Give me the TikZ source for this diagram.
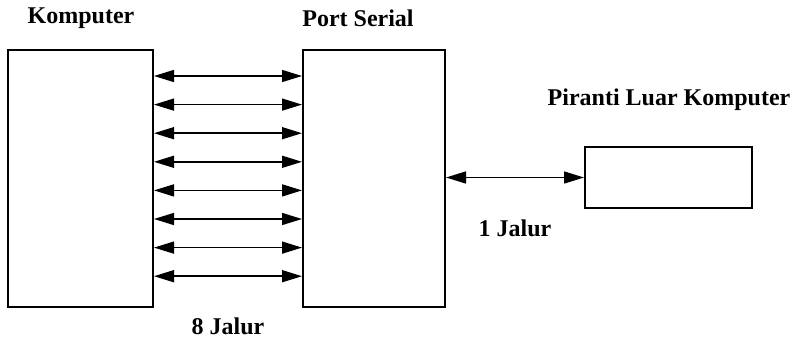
\documentclass[tikz,border=0pt]{standalone}
\usepackage{fontspec}
\setmainfont{Liberation Serif}
\usetikzlibrary{arrows.meta}
\begin{document}
\begin{tikzpicture}[
  x=0.75pt, y=-0.75pt,
  font=\fontsize{18}{21}\selectfont\bfseries,
  blok/.style={draw, line width=1.5pt, fill=white, inner sep=0pt},
  biarr/.style={{Triangle[length=15pt,width=9pt]}-{Triangle[length=15pt,width=9pt]}, line width=1.1pt},
  lbl/.style={inner sep=1pt}
]
\useasboundingbox (0,0) rectangle (795,339);

%% Blocks
\node[blok, minimum width=108.75pt, minimum height=192.75pt] (komp)   at (80.5,178.5) {};
\node[blok, minimum width=106.5pt,  minimum height=192.75pt] (port)   at (374,178.5)  {};
\node[blok, minimum width=125.25pt, minimum height=45.75pt]  (periph) at (668.5,177.5) {};

%% Titles
\node[lbl] (tkomp)   at (81,18)   {Komputer};
\node[lbl] (tport)   at (358,18)  {Port Serial};
\node[lbl] (tperiph) at (669,100) {Piranti Luar Komputer};

%% Komputer <-> Port Serial (8 lines)
\foreach \y in {76,104.6,133.2,161.8,190.4,219,247.6,276.2}
  \draw[biarr] (komp.east |- 0,\y) -- (port.west |- 0,\y);
\node[lbl] (n8) at (228,326) {8 Jalur};

%% Port Serial <-> Piranti Luar Komputer
\draw[biarr] (port.east |- periph.west) -- (periph.west);
\node[lbl] (n1) at (515,228) {1 Jalur};

\end{tikzpicture}
\end{document}
